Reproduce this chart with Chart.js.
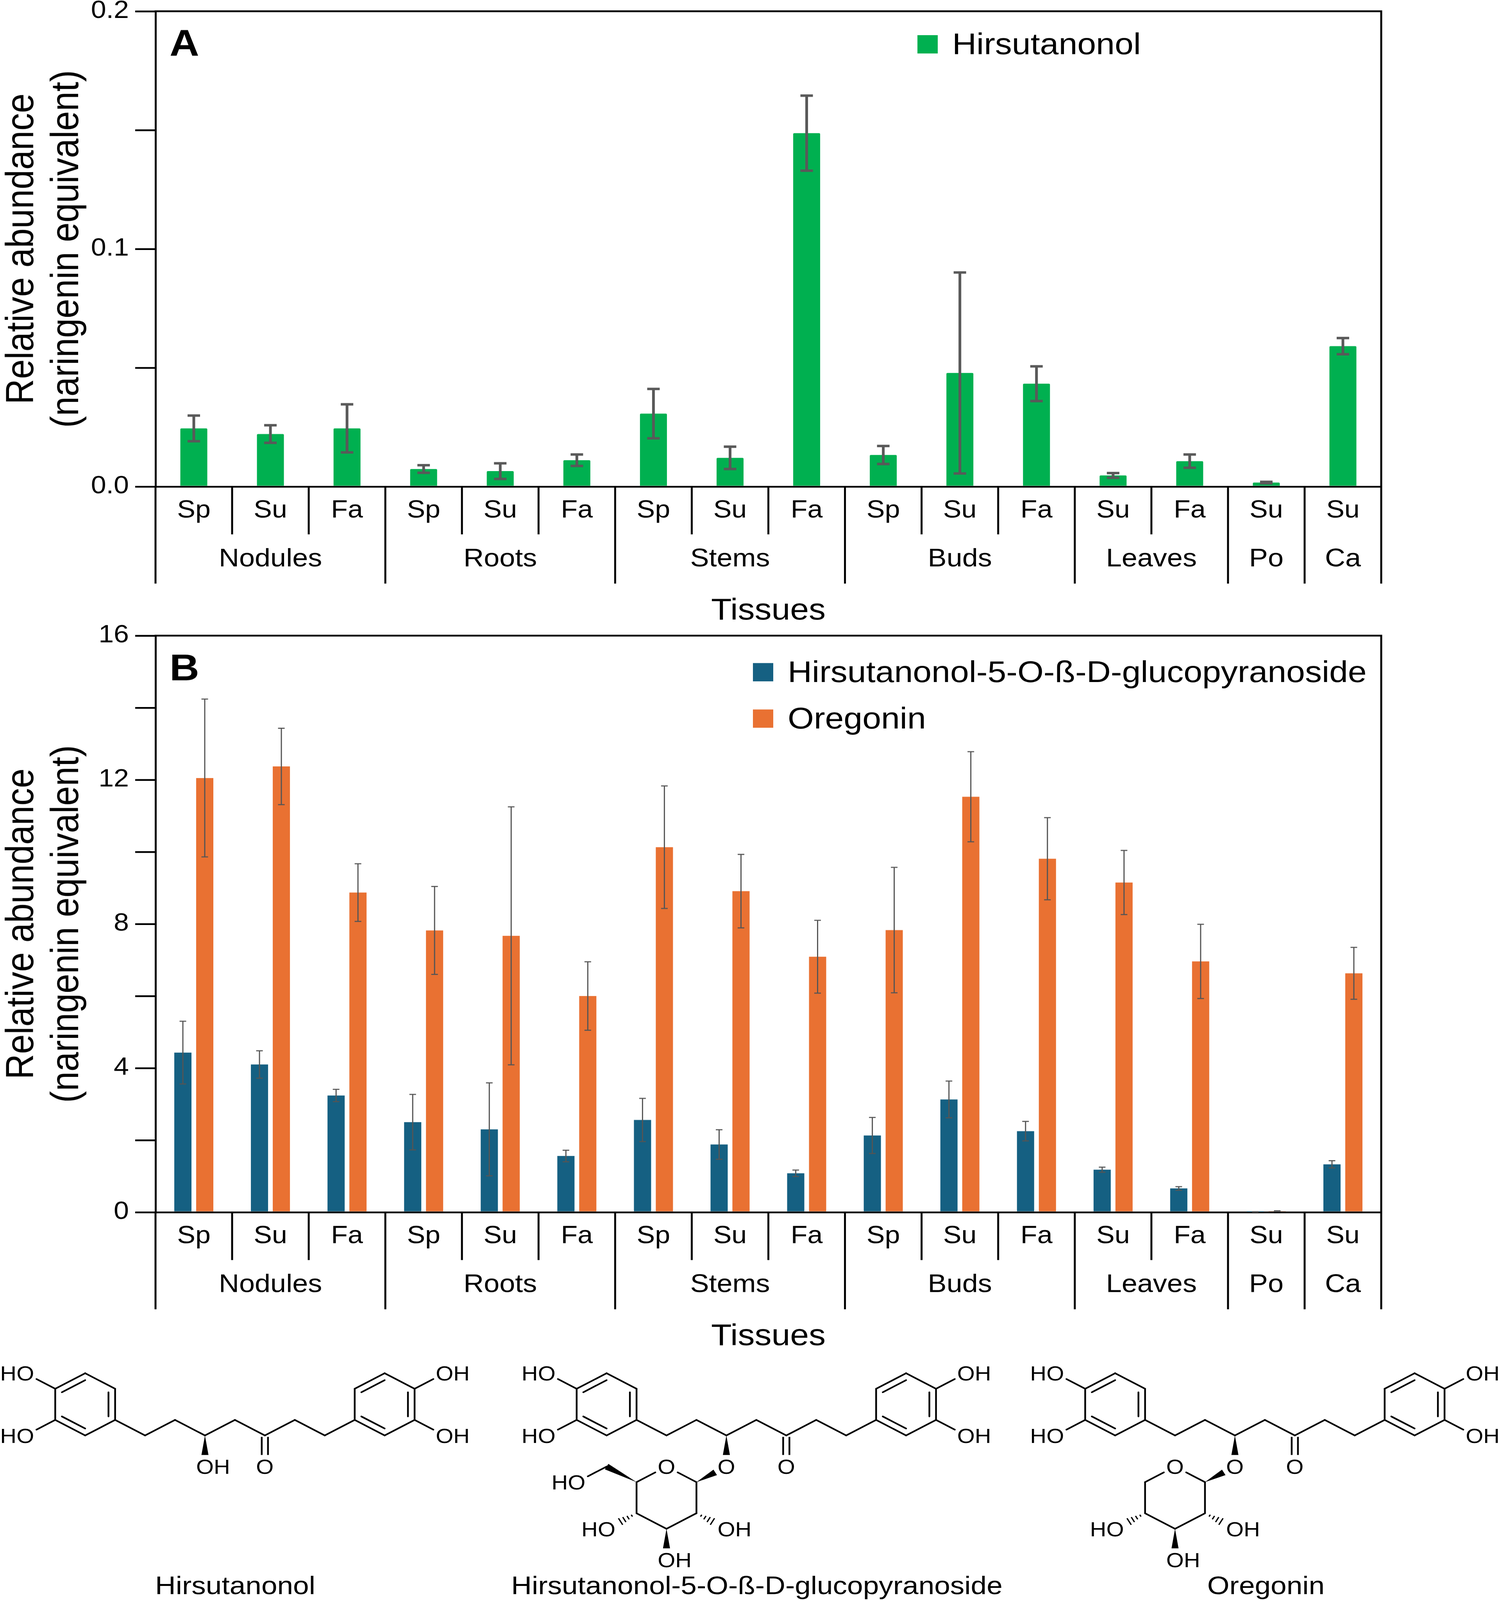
<!DOCTYPE html>
<html lang="en">
<head>
<meta charset="utf-8">
<title>Hirsutanonol, its glucoside and oregonin in alder tissues</title>
<script src="https://cdn.jsdelivr.net/npm/chart.js@4.4.1/dist/chart.umd.min.js"></script>
<style>
  html, body { margin: 0; padding: 0; background: #fff; overflow: hidden; }
  #page { position: relative; width: 3839px; height: 4551px; overflow: hidden; background: #fff; transform-origin: 0 0; }
  #chartA { position: absolute; left: 0; top: 0; }
  #chartB { position: absolute; left: 0; top: 1760px; }
  #mol { position: absolute; left: 0; top: 0; }
</style>
</head>
<body>
<div id="page">
  <canvas id="chartA" width="3839" height="1780"></canvas>
  <canvas id="chartB" width="3839" height="2090"></canvas>
  <svg id="mol" width="3839" height="4551" viewBox="0 0 3839 4551"></svg>
</div>
<script>
'use strict'

const FONT = "'Liberation Sans', Arial, sans-serif";

// x axis : season of every bar, then the tissue groups under them
const seasons = ['Sp', 'Su', 'Fa', 'Sp', 'Su', 'Fa', 'Sp', 'Su', 'Fa', 'Sp', 'Su', 'Fa', 'Su', 'Fa', 'Su', 'Su'];
const tissues = ['Nodules', 'Roots', 'Stems', 'Buds', 'Leaves', 'Po', 'Ca'];
const tissueSizes = [3, 3, 3, 3, 2, 1, 1];

// panel A : hirsutanonol (mean, sd)
const hirsutanonol   = [0.0245, 0.0221, 0.0245, 0.0074, 0.0065, 0.0111, 0.0307, 0.0121, 0.1487, 0.0133, 0.0478, 0.0433, 0.0047, 0.0107, 0.0017, 0.0591];
const hirsutanonolSd = [0.0054, 0.0037, 0.0101, 0.0016, 0.0033, 0.0024, 0.0104, 0.0047, 0.0158, 0.0038, 0.0423, 0.0073, 0.0010, 0.0028, 0.0003, 0.0034];

// panel B : glucoside and oregonin (mean, sd)
const glucoside   = [4.43, 4.10, 3.24, 2.50, 2.30, 1.56, 2.56, 1.88, 1.08, 2.13, 3.13, 2.25, 1.18, 0.66, 0.01, 1.33];
const glucosideSd = [0.87, 0.38, 0.17, 0.77, 1.29, 0.16, 0.60, 0.41, 0.09, 0.50, 0.51, 0.27, 0.07, 0.05, 0.005, 0.10];
const oregonin    = [12.05, 12.37, 8.87, 7.82, 7.67, 6.00, 10.13, 8.91, 7.09, 7.83, 11.53, 9.81, 9.15, 6.96, 0.03, 6.63];
const oregoninSd  = [2.19, 1.06, 0.80, 1.22, 3.58, 0.95, 1.70, 1.02, 1.01, 1.74, 1.25, 1.14, 0.89, 1.03, 0.01, 0.72];

// labelled y ticks, an unlabelled tick sits half way between two of them
const yTicksA = ['0.0', '0.1', '0.2'];
const yTicksB = ['0', '4', '8', '12', '16'];

// the figure is laid out for 4551 px; squeeze it if the window is shorter
const fitY = Math.min(1, window.innerHeight / 4551);
if (fitY < 1) document.getElementById('page').style.transform = 'scale(1,' + fitY + ')';

function line(ctx, x1, y1, x2, y2) {
  ctx.beginPath();
  ctx.moveTo(x1, y1);
  ctx.lineTo(x2, y2);
  ctx.stroke();
}

const panelPlugin = {
  id: 'panel',
  afterDatasetsDraw(chart, args, o) {
    /* error bars (mean +- sd) */
    const ctx = chart.ctx;
    const y = chart.scales.y;
    ctx.save();
    ctx.strokeStyle = o.errColor;
    ctx.lineWidth = o.errWidth;
    chart.data.datasets.forEach((ds, i) => {
      chart.getDatasetMeta(i).data.forEach((bar, j) => {
        const top = y.getPixelForValue(ds.data[j] + ds.errors[j]);
        const bot = y.getPixelForValue(Math.max(ds.data[j] - ds.errors[j], 0));
        line(ctx, bar.x, top, bar.x, bot);
        line(ctx, bar.x - o.capHalf, top, bar.x + o.capHalf, top);
        line(ctx, bar.x - o.capHalf, bot, bar.x + o.capHalf, bot);
      });
    });
    ctx.restore();
  },
  afterDraw(chart, args, o) {
    const ctx = chart.ctx;
    const a = chart.chartArea;
    const x = chart.scales.x;
    ctx.save();
    ctx.strokeStyle = '#000';
    ctx.fillStyle = '#000';
    ctx.lineWidth = 5;

    // frame : top and right side
    ctx.beginPath();
    ctx.moveTo(a.left - 2.5, a.top);
    ctx.lineTo(a.right, a.top);
    ctx.lineTo(a.right, a.bottom);
    ctx.stroke();

    // separators and tissue names under the axis
    const half = (x.getPixelForValue(1) - x.getPixelForValue(0)) / 2;
    ctx.font = '72px ' + FONT;
    ctx.textAlign = 'center';
    ctx.textBaseline = 'alphabetic';
    let start = 0;
    tissueSizes.forEach((n, g) => {
      const left = x.getPixelForValue(start) - half;
      const right = x.getPixelForValue(start + n - 1) + half;
      line(ctx, left, a.bottom, left, a.bottom + 276);
      for (let k = 1; k < n; k++) {
        const px = x.getPixelForValue(start + k) - half;
        line(ctx, px, a.bottom, px, a.bottom + 136);
      }
      ctx.fillText(tissues[g], (left + right) / 2, a.bottom + 227);
      start += n;
    });
    line(ctx, a.right, a.bottom, a.right, a.bottom + 276);

    // x title
    ctx.font = '86px ' + FONT;
    ctx.fillText('Tissues', (a.left + a.right) / 2, a.bottom + 378);

    // y title
    ctx.save();
    ctx.translate(85, (a.top + a.bottom) / 2);
    ctx.rotate(-Math.PI / 2);
    ctx.font = '100px ' + FONT;
    ctx.fillText('Relative abundance', 0, 0);
    ctx.fillText('(naringenin equivalent)', 0, 115);
    ctx.restore();

    // panel letter
    ctx.textAlign = 'left';
    ctx.font = 'bold 105px ' + FONT;
    ctx.fillText(o.letter, a.left + 36, a.top + 127);

    // legend
    ctx.font = '86px ' + FONT;
    chart.data.datasets.forEach((ds, i) => {
      const by = o.legendY + i * o.legendRow;
      ctx.fillStyle = ds.backgroundColor;
      ctx.fillRect(o.legendX, by, 52, 52);
      ctx.fillStyle = '#000';
      ctx.fillText(ds.label, o.legendX + 89, by + 54);
    });
    ctx.restore();
  }
};

function scalesFor(yTicks, xHeight) {
  const yMax = Number(yTicks[yTicks.length - 1]);
  return {
    x: {
      z: 1,
      grid: { display: false, drawTicks: false, tickLength: 0 },
      border: { display: true, color: '#000', width: 5 },
      ticks: { color: '#000', font: { family: FONT, size: 70, lineHeight: 0.9 }, padding: 37, autoSkip: false, maxRotation: 0 },
      afterFit: (s) => { s.height = xHeight; }
    },
    y: {
      z: 1,
      min: 0,
      max: yMax,
      grid: { drawOnChartArea: false, drawTicks: true, tickLength: 52, lineWidth: 5, color: '#000' },
      border: { display: true, color: '#000', width: 5 },
      ticks: {
        stepSize: yMax / ((yTicks.length - 1) * 2),
        color: '#000',
        font: { family: FONT, size: 70, lineHeight: 0.4 },
        padding: 16,
        callback: (v, i) => (i % 2 === 0 ? yTicks[i / 2] : '')
      },
      afterFit: (s) => { s.width = 398; }
    }
  };
}

new Chart(document.getElementById('chartA'), {
  type: 'bar',
  data: {
    labels: seasons,
    datasets: [{
      label: 'Hirsutanonol',
      data: hirsutanonol,
      errors: hirsutanonolSd,
      backgroundColor: '#00B050',
      borderRadius: 3,
      categoryPercentage: 0.5,
      barPercentage: 0.704
    }]
  },
  options: {
    responsive: false,
    animation: false,
    devicePixelRatio: 1,
    layout: { padding: { left: 0, top: 32, right: 304, bottom: 0 } },
    plugins: {
      legend: { display: false },
      tooltip: { enabled: false },
      panel: { letter: 'A', errColor: '#595959', errWidth: 7, capHalf: 16, legendX: 2348, legendY: 100, legendRow: 0 }
    },
    scales: scalesFor(yTicksA, 396)
  },
  plugins: [panelPlugin]
});

new Chart(document.getElementById('chartB'), {
  type: 'bar',
  data: {
    labels: seasons,
    datasets: [{
      label: 'Hirsutanonol-5-O-ß-D-glucopyranoside',
      data: glucoside,
      errors: glucosideSd,
      backgroundColor: '#156082',
      categoryPercentage: 0.571,
      barPercentage: 0.786
    }, {
      label: 'Oregonin',
      data: oregonin,
      errors: oregoninSd,
      backgroundColor: '#E97132',
      categoryPercentage: 0.571,
      barPercentage: 0.786
    }]
  },
  options: {
    responsive: false,
    animation: false,
    devicePixelRatio: 1,
    layout: { padding: { left: 0, top: 48, right: 304, bottom: 0 } },
    plugins: {
      legend: { display: false },
      tooltip: { enabled: false },
      panel: { letter: 'B', errColor: '#555555', errWidth: 3, capHalf: 8.5, legendX: 1927, legendY: 126, legendRow: 132 }
    },
    scales: scalesFor(yTicksB, 402)
  },
  plugins: [panelPlugin]
});

/* ---- structures under the charts (skeletal formulas) ---- */

const svg = document.getElementById('mol');
const NS = 'http://www.w3.org/2000/svg';
const BOND = 88.5;
const DX = BOND * Math.sqrt(3) / 2;
const HB = BOND / 2;
const GAP = 33;
const ATOM_FS = 58;
const STROKE = 4.5;

function add(tag, attrs, text) {
  const e = document.createElementNS(NS, tag);
  for (const k in attrs) e.setAttribute(k, attrs[k]);
  if (text) e.textContent = text;
  svg.appendChild(e);
  return e;
}

const pt = (x, y) => ({ x: x, y: y });

// point on a->b at distance d before b
function before(a, b, d) {
  const l = Math.hypot(b.x - a.x, b.y - a.y);
  return pt(b.x - (b.x - a.x) * d / l, b.y - (b.y - a.y) * d / l);
}

function bond(a, b, gapA, gapB) {
  const p = gapA ? before(b, a, gapA) : a;
  const q = gapB ? before(a, b, gapB) : b;
  add('line', { x1: p.x, y1: p.y, x2: q.x, y2: q.y, stroke: '#000', 'stroke-width': STROKE, 'stroke-linecap': 'round' });
}

function wedge(a, b, gapB) {
  const q = gapB ? before(a, b, gapB) : b;
  const l = Math.hypot(q.x - a.x, q.y - a.y);
  const nx = -(q.y - a.y) / l * 9, ny = (q.x - a.x) / l * 9;
  add('polygon', { points: `${a.x},${a.y} ${q.x + nx},${q.y + ny} ${q.x - nx},${q.y - ny}`, fill: '#000' });
}

function hashed(a, b, gapB) {
  const q = gapB ? before(a, b, gapB) : b;
  const l = Math.hypot(q.x - a.x, q.y - a.y);
  const ux = (q.x - a.x) / l, uy = (q.y - a.y) / l;
  [0.25, 0.45, 0.65, 0.85].forEach((t, k) => {
    const cx = a.x + ux * l * t, cy = a.y + uy * l * t;
    const h = 3 + k * 2.6;
    add('line', { x1: cx - uy * h, y1: cy + ux * h, x2: cx + uy * h, y2: cy - ux * h, stroke: '#000', 'stroke-width': 3.5 });
  });
}

function doubleDown(a, b, gapB) {
  const q = before(a, b, gapB);
  [-8, 8].forEach((off) => {
    add('line', { x1: a.x + off, y1: a.y + 4, x2: q.x + off, y2: q.y, stroke: '#000', 'stroke-width': STROKE });
  });
}

function atom(text, p) {
  const half = 0.389 * ATOM_FS;
  let anchor = 'middle', x = p.x;
  if (text === 'HO') { anchor = 'end'; x = p.x + half; }
  if (text === 'OH') { anchor = 'start'; x = p.x - half; }
  add('text', { x: x, y: p.y + 0.36 * ATOM_FS, 'text-anchor': anchor, 'font-family': FONT, 'font-size': ATOM_FS, fill: '#000' }, text);
}

function benzene(c) {
  const v = [pt(c.x, c.y - BOND), pt(c.x + DX, c.y - HB), pt(c.x + DX, c.y + HB),
             pt(c.x, c.y + BOND), pt(c.x - DX, c.y + HB), pt(c.x - DX, c.y - HB)];
  for (let i = 0; i < 6; i++) bond(v[i], v[(i + 1) % 6]);
  const k = 0.778;
  [[5, 0], [1, 2], [3, 4]].forEach(([i, j]) => {
    add('line', {
      x1: c.x + (v[i].x - c.x) * k, y1: c.y + (v[i].y - c.y) * k,
      x2: c.x + (v[j].x - c.x) * k, y2: c.y + (v[j].y - c.y) * k,
      stroke: '#000', 'stroke-width': STROKE, 'stroke-linecap': 'round'
    });
  });
}

function molecule(cx, cy, sugar, name) {
  const P = (i, j) => pt(cx + i * DX, cy + j * HB);
  benzene(P(0, 0));
  benzene(P(10, 0));
  const chain = [P(1, 1), P(2, 2), P(3, 1), P(4, 2), P(5, 1), P(6, 2), P(7, 1), P(8, 2), P(9, 1)];
  for (let i = 0; i < chain.length - 1; i++) bond(chain[i], chain[i + 1]);

  bond(P(-1, -1), P(-2, -2), 0, GAP); atom('HO', P(-2, -2));
  bond(P(-1, 1), P(-2, 2), 0, GAP); atom('HO', P(-2, 2));
  bond(P(11, -1), P(12, -2), 0, GAP); atom('OH', P(12, -2));
  bond(P(11, 1), P(12, 2), 0, GAP); atom('OH', P(12, 2));

  doubleDown(P(6, 2), P(6, 4), GAP); atom('O', P(6, 4));
  wedge(P(4, 2), P(4, 4), GAP);

  if (!sugar) {
    atom('OH', P(4, 4));
  } else {
    atom('O', P(4, 4));
    const ro = P(2, 4), c1 = P(3, 5), c2 = P(3, 7), c3 = P(2, 8), c4 = P(1, 7), c5 = P(1, 5);
    atom('O', ro);
    wedge(c1, P(4, 4), GAP);
    bond(ro, c1, GAP, 0);
    bond(c1, c2); bond(c2, c3); bond(c3, c4); bond(c4, c5);
    bond(c5, ro, 0, GAP);
    wedge(c3, P(2, 10), GAP); atom('OH', P(2, 10));
    hashed(c4, P(0, 8), GAP); atom('HO', P(0, 8));
    hashed(c2, P(4, 8), GAP); atom('OH', P(4, 8));
    if (sugar === 'glc') {
      wedge(c5, P(0, 4));
      bond(P(0, 4), P(-1, 5), 0, GAP); atom('HO', P(-1, 5));
    }
  }
  add('text', { x: name.x, y: 4534, 'text-anchor': 'middle', 'font-family': FONT, 'font-size': 73, fill: '#000' }, name.text);
}

molecule(218, 3994.5, null, { text: 'Hirsutanonol', x: 602 });
molecule(1552.5, 3994.5, 'glc', { text: 'Hirsutanonol-5-O-ß-D-glucopyranoside', x: 1937 });
molecule(2854, 3994.5, 'xyl', { text: 'Oregonin', x: 3240 });
</script>
</body>
</html>
